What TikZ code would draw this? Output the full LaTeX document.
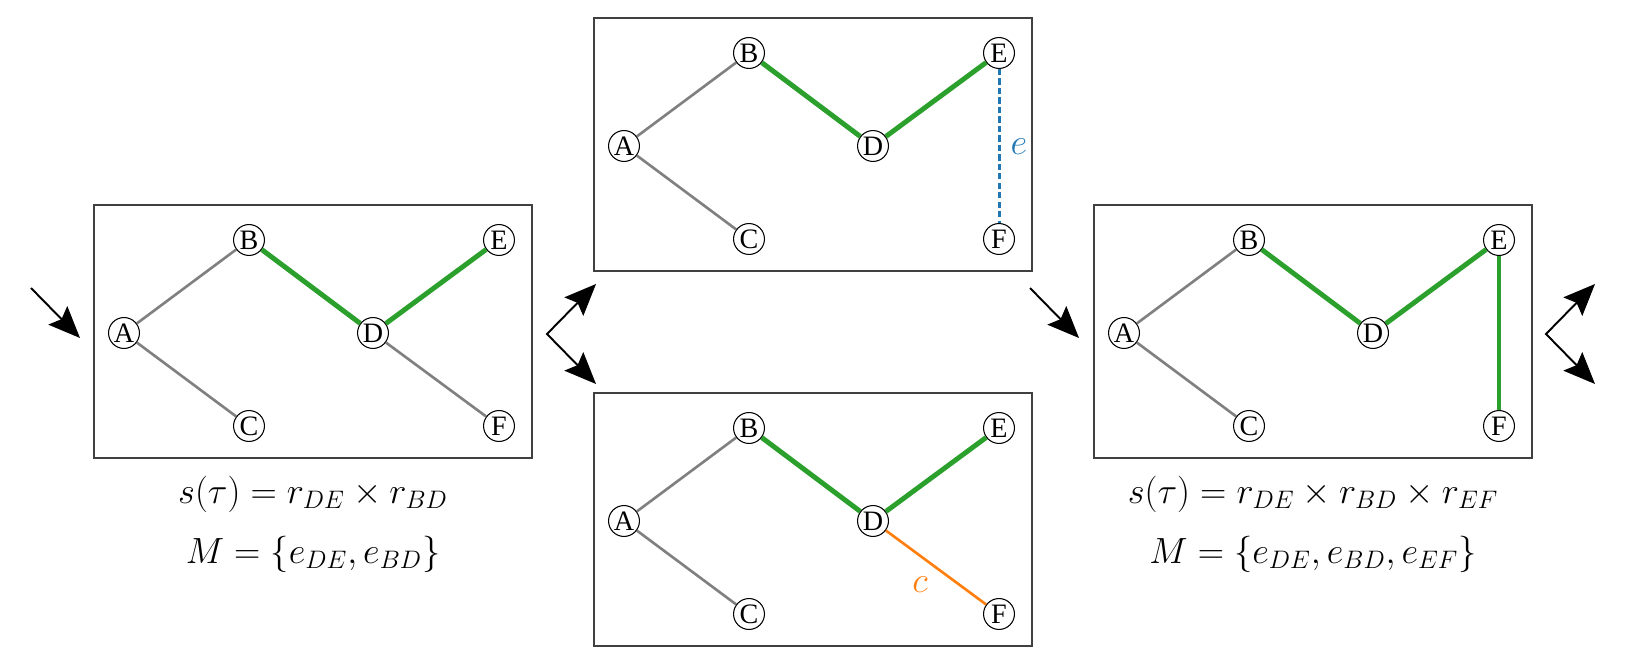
\documentclass[tikz,border=0pt]{standalone}
\usepackage{fontspec}
\newfontfamily\vertfont{Liberation Serif}
\usetikzlibrary{arrows.meta}
\definecolor{tgreen}{HTML}{2CA02C}
\definecolor{torange}{HTML}{FF7F0E}
\definecolor{tblue}{HTML}{1F77B4}
\newcommand{\mathsize}{\fontsize{21}{25}\selectfont}
% one panel: frame and the six vertices, names get a prefix
\newcommand{\panel}[3]{%
  \begin{scope}[shift={(#1,#2)},name prefix=#3-]
    \draw[frame] (0,0) rectangle (438,253);
    \foreach \v/\vx/\vy in {A/30/128,B/155/35,C/155/221,D/279/128,E/405/35,F/405/221}
      \node[vert] (\v) at (\vx,\vy) {\v};
  \end{scope}}

\begin{document}
\begin{tikzpicture}[x=0.02cm,y=-0.02cm,
    vert/.style={circle,draw,line width=0.6pt,fill=white,minimum size=17.6pt,inner sep=0.3pt,font=\vertfont\fontsize{16}{16}\selectfont},
    frame/.style={draw=black!75,line width=0.6pt},
    tedge/.style={draw=gray,line width=1.5pt},
    medge/.style={draw=tgreen,line width=2.8pt},
    cedge/.style={draw=torange,line width=1.5pt},
    nedge/.style={draw=tblue,line width=1.7pt,dash pattern=on 3.5pt off 1.9pt},
    flow/.style={-{Stealth[length=18pt,width=15pt,inset=3pt]},line width=1.1pt},
    split/.style={{Stealth[length=18pt,width=15pt,inset=3pt]}-{Stealth[length=18pt,width=15pt,inset=3pt]},line width=1.1pt,line join=miter},
    score/.style={anchor=base,font=\mathsize}]
  \useasboundingbox (0,0) rectangle (1626,665);

  \panel{94}{205}{p1}
  \panel{594}{18}{p2}
  \panel{594}{393}{p3}
  \panel{1094}{205}{p4}

  % current tree
  \draw[tedge] (p1-A) -- (p1-B);
  \draw[tedge] (p1-A) -- (p1-C);
  \draw[tedge] (p1-D) -- (p1-F);
  \draw[medge] (p1-B) -- (p1-D);
  \draw[medge] (p1-D) -- (p1-E);
  \node[score] (s1) at (313,503) {$s(\tau) = r_{DE} \times r_{BD}$};
  \node[score] (m1) at (313,563) {$M = \{e_{DE}, e_{BD}\}$};

  % new edge
  \draw[tedge] (p2-A) -- (p2-B);
  \draw[tedge] (p2-A) -- (p2-C);
  \draw[medge] (p2-B) -- (p2-D);
  \draw[medge] (p2-D) -- (p2-E);
  \draw[nedge] (p2-E) -- (p2-F);
  \node[text=tblue,font=\mathsize] (le) at (1019,147) {$e$};

  % conflict edge
  \draw[tedge] (p3-A) -- (p3-B);
  \draw[tedge] (p3-A) -- (p3-C);
  \draw[medge] (p3-B) -- (p3-D);
  \draw[medge] (p3-D) -- (p3-E);
  \draw[cedge] (p3-D) -- (p3-F);
  \node[text=torange,font=\mathsize] (lc) at (920,585) {$c$};

  % extended tree
  \draw[tedge] (p4-A) -- (p4-B);
  \draw[tedge] (p4-A) -- (p4-C);
  \draw[medge] (p4-B) -- (p4-D);
  \draw[medge] (p4-D) -- (p4-E);
  \draw[medge] (p4-E) -- (p4-F);
  \node[score] (s4) at (1313,503) {$s(\tau) = r_{DE} \times r_{BD} \times r_{EF}$};
  \node[score] (m4) at (1313,563) {$M = \{e_{DE}, e_{BD}, e_{EF}\}$};

  % arrows
  \coordinate (in1) at (31,288);
  \coordinate (in1t) at (80,338);
  \coordinate (sp1u) at (596,284);
  \coordinate (sp1) at (547,334);
  \coordinate (sp1d) at (596,384);
  \coordinate (in4) at (1030,288);
  \coordinate (in4t) at (1079,338);
  \coordinate (sp4u) at (1595,284);
  \coordinate (sp4) at (1546,334);
  \coordinate (sp4d) at (1595,384);
  \draw[flow] (in1) -- (in1t);
  \draw[split] (sp1u) -- (sp1) -- (sp1d);
  \draw[flow] (in4) -- (in4t);
  \draw[split] (sp4u) -- (sp4) -- (sp4d);
\end{tikzpicture}
\end{document}
